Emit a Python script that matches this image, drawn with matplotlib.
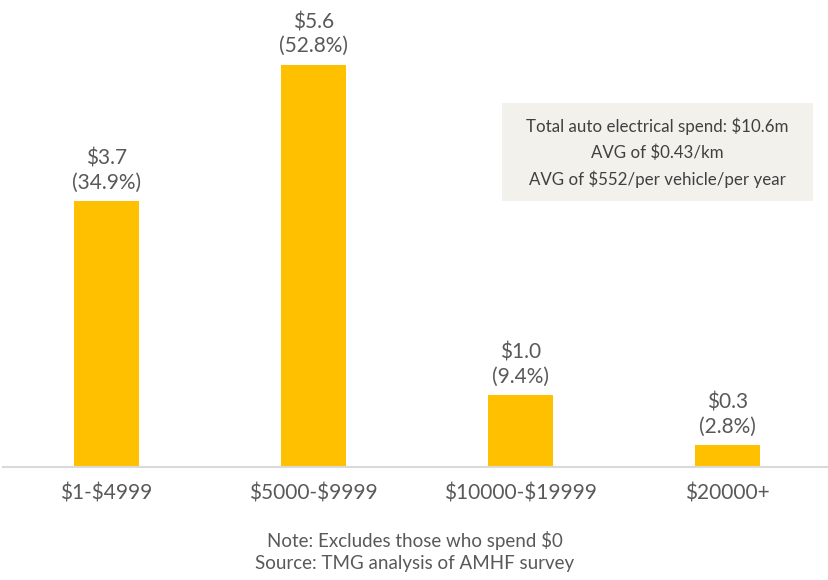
import numpy as np
import matplotlib.pyplot as plt
from matplotlib.patches import Rectangle

categories = ["$1-$4999", "$5000-$9999", "$10000-$19999", "$20000+"]
spend = [3.7, 5.6, 1.0, 0.3]          # $m
share = [34.9, 52.8, 9.4, 2.8]        # %

box_lines = ["Total auto electrical spend: $10.6m",
             "AVG of $0.43/km",
             "AVG of $552/per vehicle/per year"]

plt.rcParams.update({
    "font.family": ["Lato", "DejaVu Sans"],
    "text.color": "#595959",
    "text.parse_math": False,
})

W, H = 829, 580
fig = plt.figure(figsize=(W / 100, H / 100), dpi=100)
ax = fig.add_axes([3 / W, 1 - 467 / H, 828 / W, 467 / H])

x = np.arange(len(categories))
ax.bar(x, spend, width=0.31, color="#FFC000", zorder=2)

for xi, v, p in zip(x, spend, share):
    ax.text(xi, v + 0.12, f"${v:.1f}\n({p:.1f}%)", ha="center", va="bottom",
            fontsize=15, color="#595959", linespacing=1.25)

ax.set_xlim(-0.5, 3.5)
ax.set_ylim(0, 6.5)
ax.set_yticks([])
ax.set_xticks(x)
ax.set_xticklabels(categories, fontsize=15, color="#595959")
ax.tick_params(axis="x", length=0, pad=12)
for s in ["top", "right", "left"]:
    ax.spines[s].set_visible(False)
ax.spines["bottom"].set_color("#D9D9D9")
ax.spines["bottom"].set_linewidth(1.5)
ax.patch.set_alpha(0)

# info box
fig.patches.append(Rectangle((502 / W, 1 - 201 / H), 311 / W, 98 / H,
                             transform=fig.transFigure, facecolor="#F2F1EB",
                             edgecolor="none", zorder=0))
for i, line in enumerate(box_lines):
    fig.text(657 / W, 1 - (126 + 26.5 * i) / H, line, ha="center", va="center",
             fontsize=12.2, color="#404040")

fig.text(0.5, 1 - 541 / H, "Note: Excludes those who spend $0", ha="center",
         va="center", fontsize=13.5, color="#595959")
fig.text(0.5, 1 - 564 / H, "Source: TMG analysis of AMHF survey", ha="center",
         va="center", fontsize=13.5, color="#595959")

fig.savefig("out.png", dpi=100)
